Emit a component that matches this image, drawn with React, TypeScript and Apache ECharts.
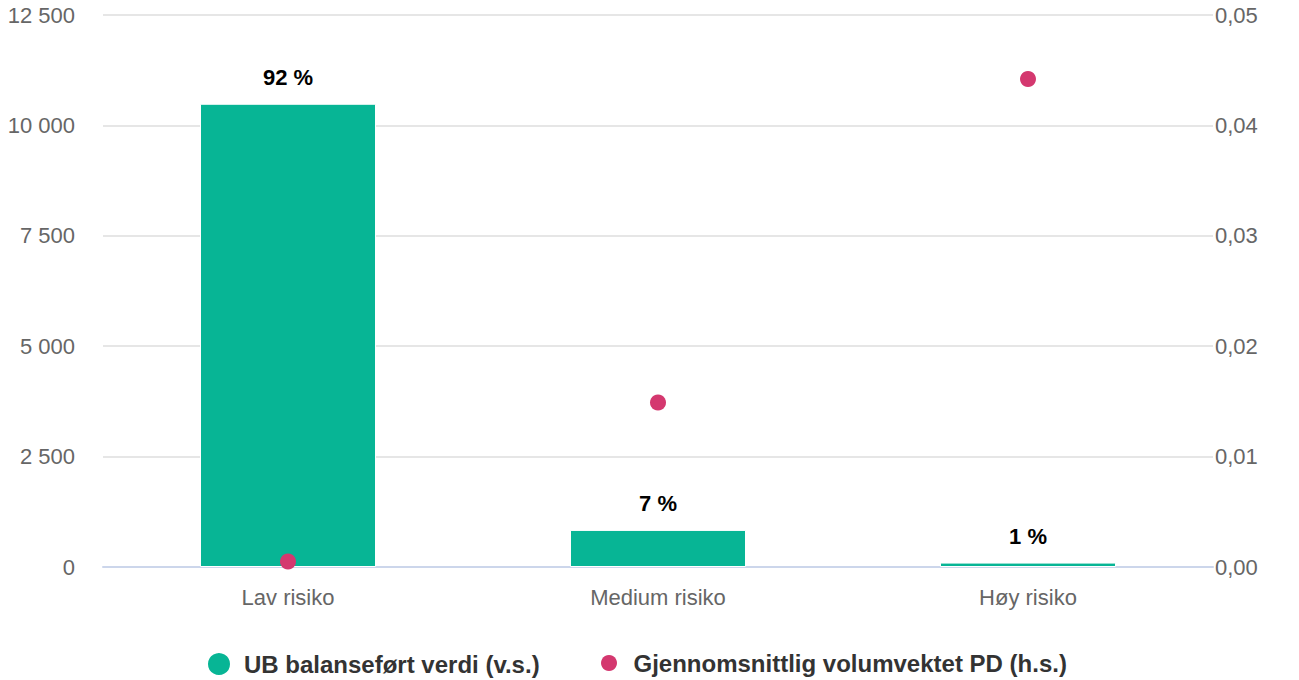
import React, { useEffect, useRef } from "react";
import * as echarts from "echarts";

const categories = ["Lav risiko", "Medium risiko", "Høy risiko"];
const balanseVerdi = [10490, 840, 100];
const shareLabels = ["92 %", "7 %", "1 %"];
const volumPD = [0.0005, 0.0149, 0.0442];
const leftTicks = { min: 0, max: 12500, interval: 2500 };
const rightTicks = { min: 0, max: 0.05, interval: 0.01 };

const FONT = "'Liberation Sans', Arial, sans-serif";
const GREEN = "#07b595";
const PINK = "#d4386f";

export default function App() {
  const ref = useRef<HTMLDivElement>(null);
  useEffect(() => {
    if (!ref.current) return;
    const chart = echarts.init(ref.current, undefined, { renderer: "svg" });
    const legendText = { fontFamily: FONT, fontSize: 24, fontWeight: "bold", color: "#333" };
    chart.setOption({
      animation: false,
      textStyle: { fontFamily: FONT },
      grid: { left: 103, right: 86, top: 15, bottom: 113 },
      legend: [
        {
          data: ["UB balanseført verdi (v.s.)"],
          left: 201,
          top: 646,
          icon: "circle",
          itemWidth: 40,
          itemHeight: 24,
          textStyle: legendText,
        },
        {
          data: ["Gjennomsnittlig volumvektet PD (h.s.)"],
          left: 596,
          top: 646,
          icon: "circle",
          itemWidth: 39,
          itemHeight: 16,
          textStyle: legendText,
        },
      ],
      xAxis: {
        type: "category",
        data: categories,
        axisLine: { lineStyle: { color: "#ccd6eb", width: 2 } },
        axisTick: { show: false },
        axisLabel: { color: "#666", fontSize: 22, margin: 19, fontFamily: FONT },
      },
      yAxis: [
        {
          type: "value",
          ...leftTicks,
          axisLine: { show: false },
          axisTick: { show: false },
          splitLine: { lineStyle: { color: "#e6e6e6", width: 2 } },
          axisLabel: {
            color: "#666",
            fontSize: 22,
            margin: 28,
            fontFamily: FONT,
            formatter: (v: number) => String(v).replace(/\B(?=(\d{3})+(?!\d))/g, " "),
          },
        },
        {
          type: "value",
          ...rightTicks,
          position: "right",
          axisLine: { show: false },
          axisTick: { show: false },
          splitLine: { show: false },
          axisLabel: {
            color: "#666",
            fontSize: 22,
            margin: 2,
            fontFamily: FONT,
            formatter: (v: number) => v.toFixed(2).replace(".", ","),
          },
        },
      ],
      series: [
        {
          name: "UB balanseført verdi (v.s.)",
          type: "bar",
          data: balanseVerdi,
          barWidth: 176,
          itemStyle: { color: GREEN, borderColor: "#fff", borderWidth: 1 },
          label: {
            show: true,
            position: "top",
            distance: 15,
            fontSize: 22,
            fontWeight: "bold",
            color: "#000",
            fontFamily: FONT,
            formatter: (p: any) => shareLabels[p.dataIndex],
          },
        },
        {
          name: "Gjennomsnittlig volumvektet PD (h.s.)",
          type: "scatter",
          yAxisIndex: 1,
          data: volumPD,
          symbolSize: 16,
          itemStyle: { color: PINK, opacity: 1 },
        },
      ],
    });
    return () => chart.dispose();
  }, []);
  return (
    <div
      ref={ref}
      style={{ position: "absolute", left: 0, top: 0, width: 1299, height: 680 }}
    />
  );
}
